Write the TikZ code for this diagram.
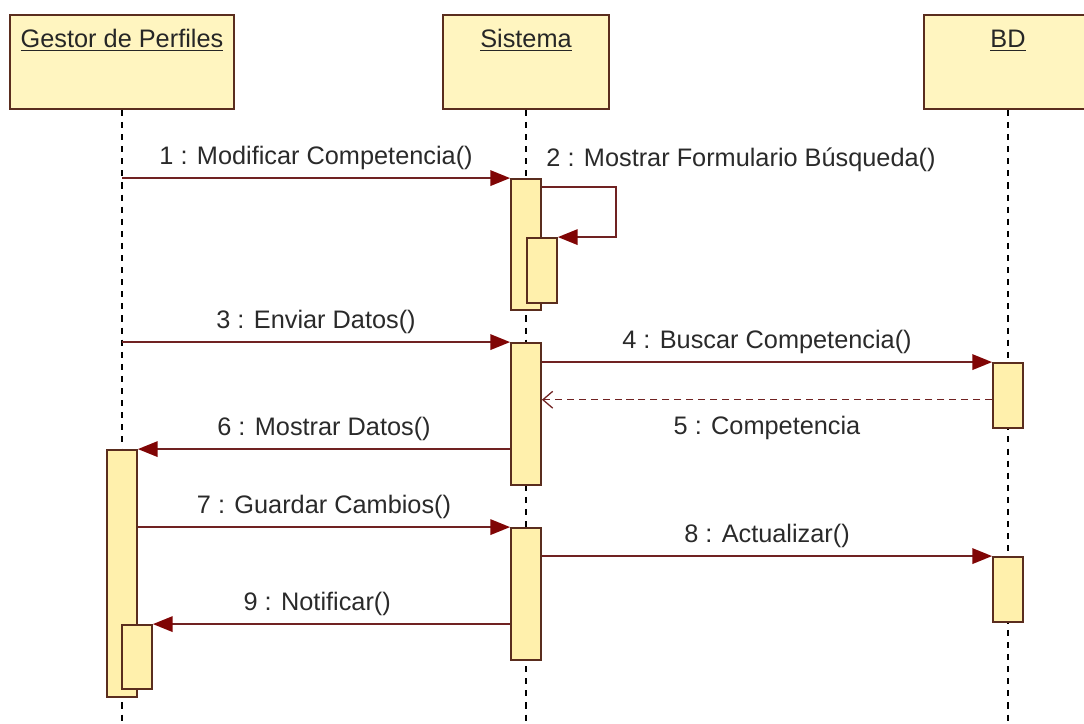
\documentclass[tikz,border=0pt]{standalone}
\usepackage{fontspec}
\setmainfont{Liberation Sans}
\usepackage{tikz}
\usetikzlibrary{arrows.meta,calc}
\definecolor{boxfill}{HTML}{FFF5C0}
\definecolor{actfill}{HTML}{FFF0AC}
\definecolor{boxline}{HTML}{5A2D1E}
\definecolor{msgline}{HTML}{702222}
\definecolor{tipfill}{HTML}{800505}
\definecolor{txt}{HTML}{2A2A2A}
\newcommand{\umlfont}{\fontsize{18}{20}\selectfont}
\tikzset{
  head/.style={draw=boxline, line width=1.3pt, fill=boxfill, inner sep=0pt, anchor=north,
    text height=23.5pt, text depth=43.4pt, font=\umlfont, text=black!85},
  act/.style={draw=boxline, line width=1.3pt, fill=actfill, minimum width=0.75cm, inner sep=0pt},
  life/.style={black, line width=1.1pt, dash pattern=on 4.3pt off 4.3pt},
  msg/.style={draw=msgline, line width=1.3pt, -{Triangle[length=14pt,width=11pt,color=tipfill]}},
  ret/.style={draw=msgline, line width=0.9pt, dash pattern=on 5pt off 3.5pt,
    -{Straight Barb[length=7pt,width=12pt]}},
  lbltxt/.style={font=\umlfont, text=txt, inner sep=0pt},
  lbl/.style={lbltxt, midway, anchor=base, yshift=9.5pt},
  lblb/.style={lbltxt, midway, anchor=base, yshift=-24.9pt}
}
\newcommand{\activation}[4]{% name, x, top, bottom
  \node[act, minimum height={(#4-#3)*0.025cm}] (#1) at (#2,{(#3+#4)/2}) {};
}

\begin{document}
\begin{tikzpicture}[x=0.025cm, y=-0.025cm]
  \useasboundingbox (0,0) rectangle (1084,723);
  \clip (0,0) rectangle (1084,723);

  \node[head, minimum width=5.6cm] (gestor) at (122,14) {\underline{Gestor de Perfiles}};
  \node[head, minimum width=4.15cm] (sistema) at (526,14) {\underline{Sistema}};
  \node[head, minimum width=4.2cm] (bd) at (1008,14) {\underline{BD}};

  \foreach \n in {gestor,sistema,bd}
    \draw[life] (\n.south) -- (\n.south |- 0,723);% lifelines

  \activation{g1}{122}{450}{697}
  \activation{g2}{137}{625}{689}
  \activation{s1}{526}{179}{310}
  \activation{s1n}{542}{238}{303}
  \activation{s2}{526}{343}{485}
  \activation{s3}{526}{528}{660}
  \activation{b1}{1008}{363}{428}
  \activation{b2}{1008}{557}{622}

  \draw[msg] (gestor.south |- s1.north west) -- node[lbl] (m1) {1 : Modificar Competencia()} (s1.north west);
  \draw[msg] ([yshift=-6.4pt]s1.north east) -- ++(74,0) |- (s1n.north east);% self call
  \node[lbltxt, anchor=base west] (m2) at ([xshift=3pt,yshift=8.5pt]s1.north east) {2 : Mostrar Formulario Búsqueda()};
  \draw[msg] (gestor.south |- s2.north west) -- node[lbl] (m3) {3 : Enviar Datos()} (s2.north west);
  \draw[msg] (s2.east |- b1.north west) -- node[lbl] (m4) {4 : Buscar Competencia()} (b1.north west);
  \coordinate (r5) at ([yshift=-3pt]b1.west);
  \draw[ret] (r5) -- node[lblb] (m5) {5 : Competencia} (s2.east |- r5);
  \draw[msg] (s2.west |- g1.north east) -- node[lbl] (m6) {6 : Mostrar Datos()} (g1.north east);
  \draw[msg] (g1.east |- s3.north west) -- node[lbl] (m7) {7 : Guardar Cambios()} (s3.north west);
  \draw[msg] (s3.east |- b2.north west) -- node[lbl] (m8) {8 : Actualizar()} (b2.north west);
  \draw[msg] (s3.west |- g2.north east) -- node[lbl, pos=0.54] (m9) {9 : Notificar()} (g2.north east);
\end{tikzpicture}
\end{document}
